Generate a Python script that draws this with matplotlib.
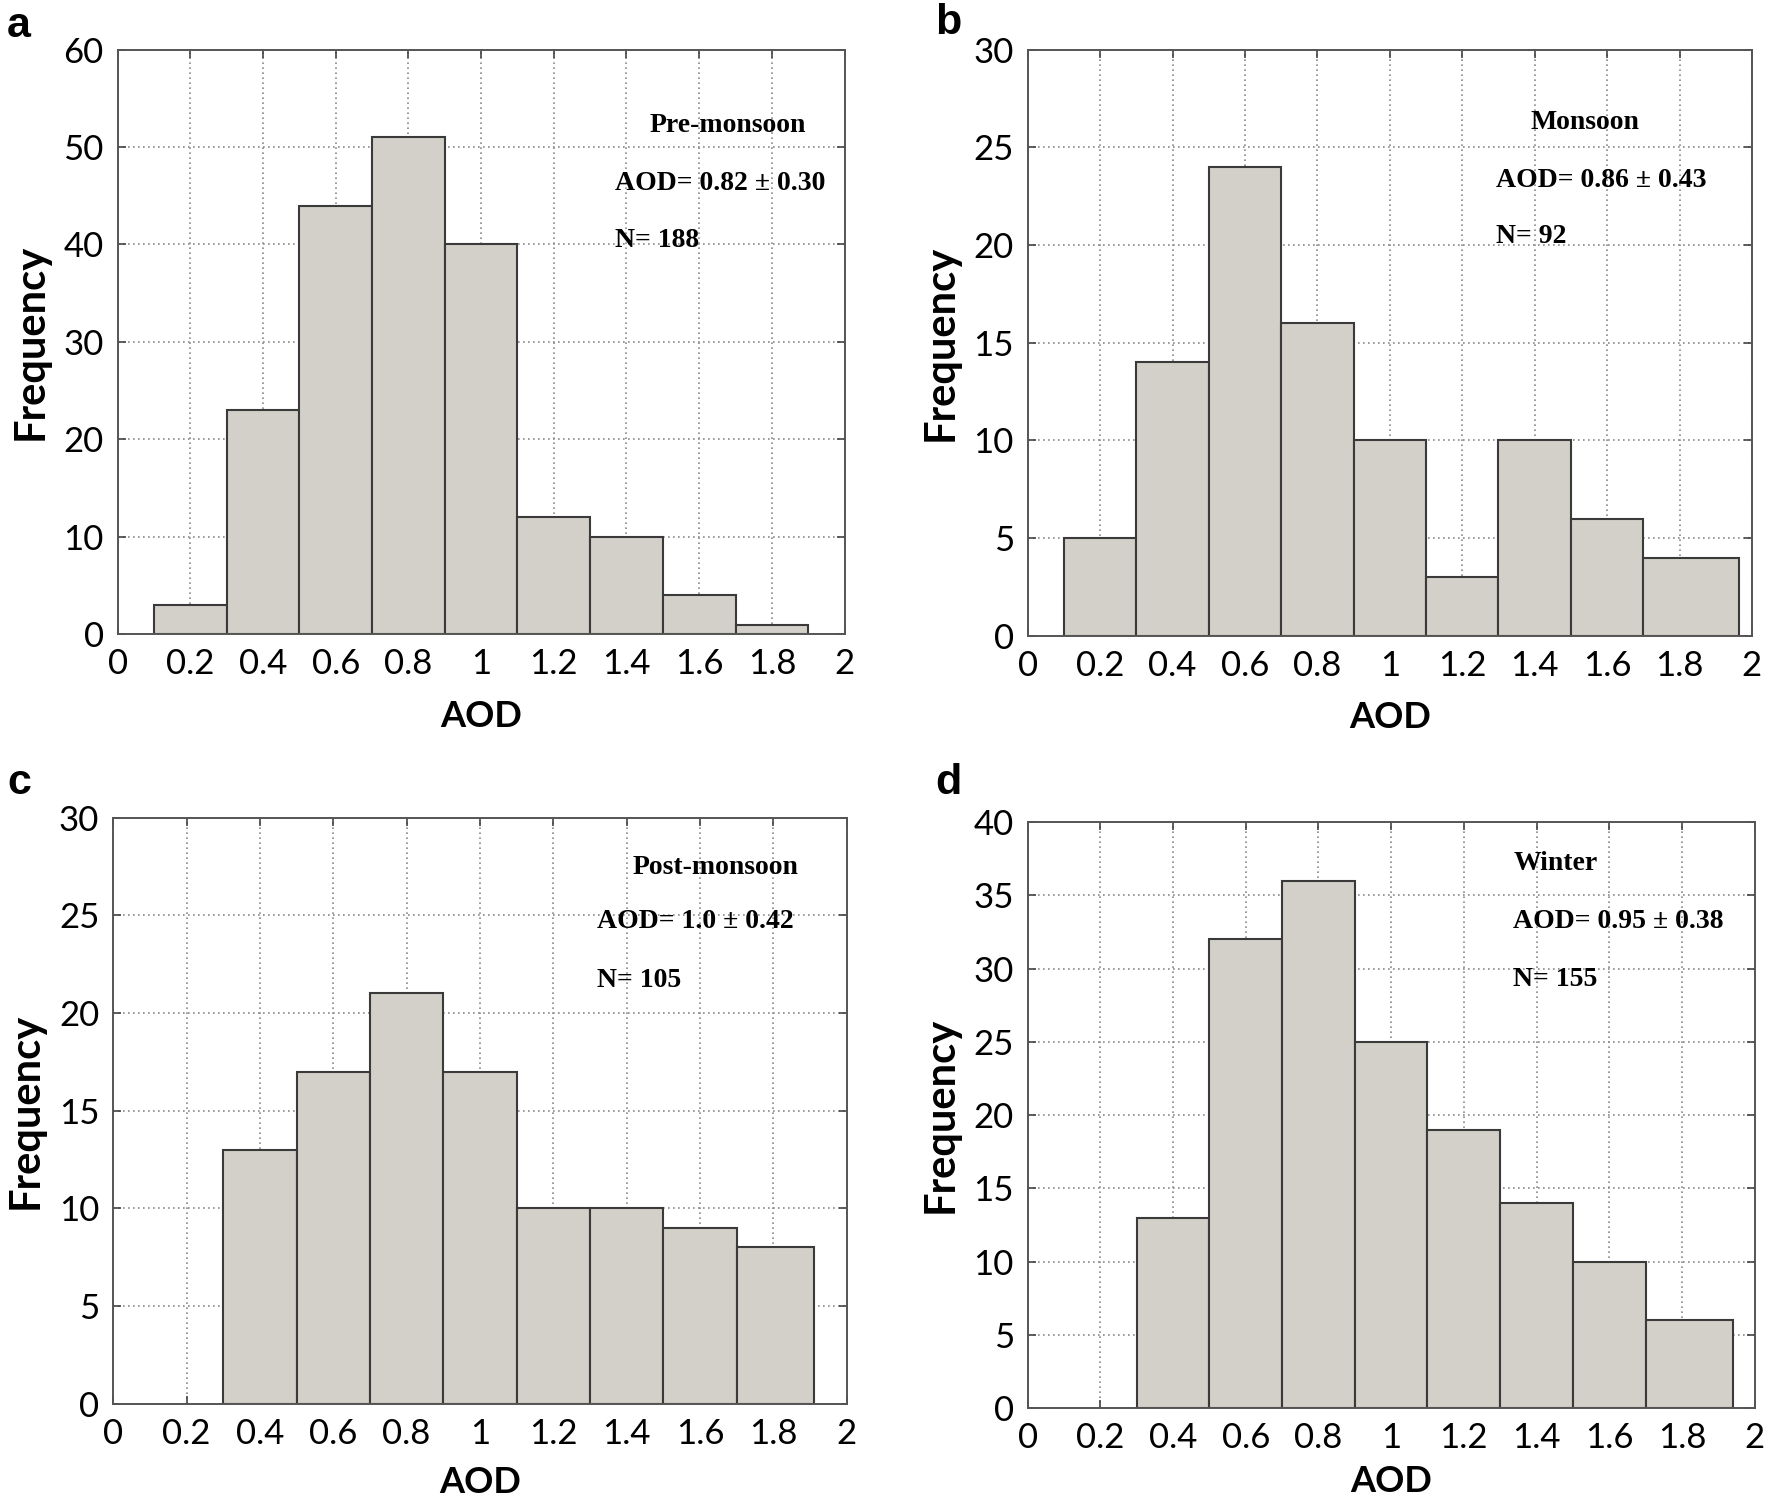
import numpy as np
import matplotlib
matplotlib.use("Agg")
import matplotlib.pyplot as plt
from matplotlib.ticker import FuncFormatter

# ---- data ----
panel_letters = ["a", "b", "c", "d"]
seasons = ["Pre-monsoon", "Monsoon", "Post-monsoon", "Winter"]
aod_texts = ["AOD= 0.82 \u00b1 0.30", "AOD= 0.86 \u00b1 0.43", "AOD= 1.0 \u00b1 0.42", "AOD= 0.95 \u00b1 0.38"]
n_texts = ["N= 188", "N= 92", "N= 105", "N= 155"]

edges_a = [0.1, 0.3, 0.5, 0.7, 0.9, 1.1, 1.3, 1.5, 1.7, 1.9]
counts_a = [3, 23, 44, 51, 40, 12, 10, 4, 1]
edges_b = [0.1, 0.3, 0.5, 0.7, 0.9, 1.1, 1.3, 1.5, 1.7, 1.965]
counts_b = [5, 14, 24, 16, 10, 3, 10, 6, 4]
edges_c = [0.3, 0.5, 0.7, 0.9, 1.1, 1.3, 1.5, 1.7, 1.91]
counts_c = [13, 17, 21, 17, 10, 10, 9, 8]
edges_d = [0.3, 0.5, 0.7, 0.9, 1.1, 1.3, 1.5, 1.7, 1.94]
counts_d = [13, 32, 36, 25, 19, 14, 10, 6]

x_ticks = [0, 0.2, 0.4, 0.6, 0.8, 1, 1.2, 1.4, 1.6, 1.8, 2]
y_max = [60, 30, 30, 40]
y_step = [10, 5, 5, 5]

# ---- layout ----
axes_rects = [
    [0.0663, 0.578, 0.4095, 0.389],
    [0.579, 0.577, 0.408, 0.390],
    [0.0638, 0.066, 0.4132, 0.390],
    [0.579, 0.063, 0.4095, 0.390],
]
xlabel_pad = [14, 14, 12, 8]
letter_pos = [(0.004, 0.983), (0.527, 0.985), (0.004, 0.479), (0.527, 0.479)]
# text positions in axes fraction: (season center x, season y, stat left x, aod y, n y)
text_pos = [
    (0.84, 0.870, 0.684, 0.771, 0.674),
    (0.769, 0.875, 0.647, 0.776, 0.681),
    (0.821, 0.915, 0.660, 0.822, 0.723),
    (0.726, 0.929, 0.667, 0.830, 0.732),
]

fig = plt.figure(figsize=(17.75, 15.03), dpi=100)
all_edges = [edges_a, edges_b, edges_c, edges_d]
all_counts = [counts_a, counts_b, counts_c, counts_d]

tick_font = "Lato"
for i in range(4):
    ax = fig.add_axes(axes_rects[i])
    e = np.array(all_edges[i])
    c = np.array(all_counts[i])
    ax.bar(e[:-1], c, width=np.diff(e), align="edge", color="#d3d0c9",
           edgecolor="#3a3a3a", linewidth=1.5, zorder=2)
    ax.set_xlim(0, 2)
    ax.set_ylim(0, y_max[i])
    ax.set_xticks(x_ticks)
    ax.set_yticks(np.arange(0, y_max[i] + 1, y_step[i]))
    ax.xaxis.set_major_formatter(FuncFormatter(lambda v, p: "%g" % v))
    ax.set_axisbelow(True)
    ax.grid(True, linestyle=(0, (1, 2)), color="#8a8a8a", linewidth=1.2)
    ax.tick_params(direction="in", length=6, width=1.2, top=True, right=True,
                   labelsize=25, pad=10, colors="#444444", labelcolor="black")
    for lab in ax.get_xticklabels() + ax.get_yticklabels():
        lab.set_fontfamily(tick_font)
    for s in ax.spines.values():
        s.set_color("#555555")
        s.set_linewidth(1.4)
    ax.set_xlabel("AOD", fontsize=26, fontweight="bold", family="Lato", labelpad=xlabel_pad[i])
    ax.set_ylabel("Frequency", fontsize=30, fontweight="bold", family="Lato", labelpad=10)

    sx, sy, tx, ay, ny = text_pos[i]
    ax.text(sx, sy, seasons[i], transform=ax.transAxes, ha="center", va="center",
            fontsize=20, fontweight="bold", family="Liberation Serif")
    ax.text(tx, ay, aod_texts[i], transform=ax.transAxes, ha="left", va="center",
            fontsize=20, fontweight="bold", family="Liberation Serif")
    ax.text(tx, ny, n_texts[i], transform=ax.transAxes, ha="left", va="center",
            fontsize=20, fontweight="bold", family="Liberation Serif")

    lx, ly = letter_pos[i]
    fig.text(lx, ly, panel_letters[i], ha="left", va="center", fontsize=31,
             fontweight="bold", family="Liberation Sans")

fig.savefig("out.png", dpi=100, facecolor="white")
